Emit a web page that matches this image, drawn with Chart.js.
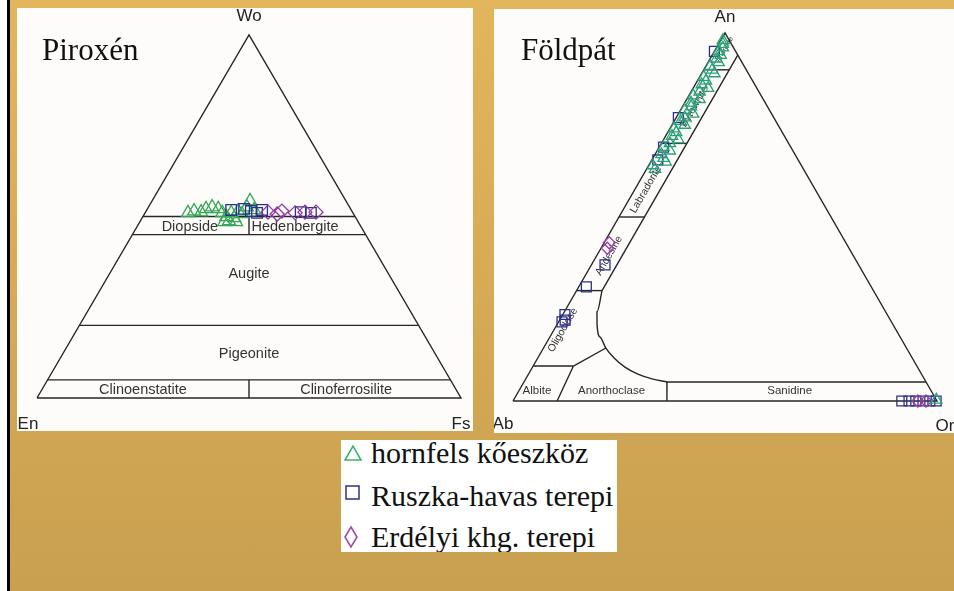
<!DOCTYPE html>
<html>
<head>
<meta charset="utf-8">
<script src="https://cdn.jsdelivr.net/npm/chart.js@4.4.0/dist/chart.umd.min.js"></script>
<style>
html,body{margin:0;padding:0;}
body{width:954px;height:591px;position:relative;overflow:hidden;background:linear-gradient(#e3b55c,#c9a050);}
#leftWhite{position:absolute;left:0;top:0;width:7px;height:591px;background:#fff;}
#leftBlack{position:absolute;left:7px;top:0;width:3px;height:591px;background:#000;}
.panel{position:absolute;background:#fdfcfa;}
#pyxBox{left:17px;top:8px;width:456px;height:423px;}
#fspBox{left:494px;top:9px;width:460px;height:424px;}
.panel canvas{position:absolute;left:0;top:0;}
.title{position:absolute;font-family:'Liberation Serif','Times New Roman',serif;font-size:31px;line-height:31px;color:#111;white-space:nowrap;}
#legend{position:absolute;left:341px;top:440px;width:276px;height:112px;background:#fff;overflow:hidden;}
#legend svg{position:absolute;left:0;top:0;}
.row{position:absolute;left:30px;font-family:'Liberation Serif','Times New Roman',serif;font-size:30px;line-height:30px;color:#111;white-space:nowrap;}
</style>
</head>
<body>
<div id="leftWhite"></div><div id="leftBlack"></div>
<div class="panel" id="pyxBox"><canvas id="pyx" width="456" height="423" style="width:456px;height:423px"></canvas></div>
<div class="panel" id="fspBox"><canvas id="fsp" width="460" height="424" style="width:460px;height:424px"></canvas></div>
<div class="title" id="t1" style="left:42px;top:34px"></div>
<div class="title" id="t2" style="left:521px;top:34px"></div>
<div id="legend">
  <svg width="276" height="112" viewBox="0 0 276 112">
    <polygon points="4,20 20,20 12,6" fill="none" stroke="#3db36b" stroke-width="1.6"/>
    <rect x="5" y="46" width="13" height="13" fill="none" stroke="#3c3c94" stroke-width="1.6"/>
    <polygon points="10,87 16,97 10,107 4,97" fill="none" stroke="#a24aa6" stroke-width="1.6"/>
  </svg>
  <div class="row" id="l0" style="top:-2px"></div>
  <div class="row" id="l1" style="top:41px"></div>
  <div class="row" id="l2" style="top:82px"></div>
</div>
<script>
// ---------- DATA ----------
const seriesNames = ['hornfels kőeszköz', 'Ruszka-havas terepi', 'Erdélyi khg. terepi'];
const panelTitles = ['Piroxén', 'Földpát'];
const pyxCorners = ['Wo', 'En', 'Fs'];
const fspCorners = ['An', 'Ab', 'Or'];
const pyxFields = ['Diopside', 'Hedenbergite', 'Augite', 'Pigeonite', 'Clinoenstatite', 'Clinoferrosilite'];
const fspStripFields = ['Oligoclase', 'Andesine', 'Labradorite', 'Bytownite', 'Anorthite'];
const fspBaseFields = ['Albite', 'Anorthoclase', 'Sanidine'];

// Pyroxene compositions (mol% Wo, Fs)
const pyxHornfelsWo = [51.0, 51.5, 51.2, 52.1, 52.6, 52.1, 51.0, 49.9, 48.8, 51.0, 49.6, 51.5, 50.7, 52.6, 54.3, 51.8, 48.5, 48.5];
const pyxHornfelsFs = [10.1, 11.3, 13.1, 13.8, 15.0, 16.7, 18.2, 19.7, 20.9, 20.3, 21.7, 21.7, 23.0, 23.2, 23.1, 25.3, 19.9, 22.7];
const pyxRuszkaWo = [51.8, 52.1, 51.5, 51.0, 51.8, 51.2, 51.0];
const pyxRuszkaFs = [19.9, 22.8, 24.7, 26.4, 27.2, 36.6, 39.1];
const pyxErdelyiWo = [51.2, 50.7, 51.5, 51.0, 51.2, 51.2];
const pyxErdelyiFs = [28.9, 31.3, 32.0, 35.4, 37.6, 40.2];

// Feldspar compositions (mol% An, Or)
const fspHornfelsAn = [63, 64, 65, 66, 67, 68, 69, 70, 71, 72, 73, 74, 75, 76, 77, 78, 79, 80, 81, 82, 83, 84, 85, 86, 87, 88, 89, 90, 91, 92, 93, 94, 95, 96, 97, 98, 0.3];
const fspHornfelsOr = [2, 1, 3.5, 2.5, 1.5, 3, 1, 2, 3.5, 1.5, 2, 1, 3, 1.5, 2, 3.5, 1, 2, 1.5, 3, 1, 2, 3.5, 1.5, 2, 1, 3, 2, 1, 2.5, 1.5, 2, 1, 1.5, 1, 0.5, 99.7];
const fspRuszkaAn = [95, 77, 69, 65.5, 37, 31, 23.5, 21.5, 22, 0, 0, 0, 0, 0, 0];
const fspRuszkaOr = [0, 0.5, 1, 1.4, 3.2, 1.8, 0.5, 0.8, 1.3, 91.7, 93.4, 95, 96.7, 98.3, 99.8];
const fspErdelyiAn = [43, 41.5, 0, 0];
const fspErdelyiOr = [1.2, 1.5, 95.5, 97.4];

// Field boundaries (pyroxene: [Wo, Fs])
const pyxBoundaries = [
  [[0, 0], [0, 100], [100, 0], [0, 0]],
  [[50, 0], [50, 50]],
  [[45, 0], [45, 55]],
  [[20, 0], [20, 80]],
  [[5, 0], [5, 95]],
  [[45, 27.5], [50, 25]],
  [[0, 50], [5, 47.5]]
];
// Field boundaries (feldspar: [An, Or])
const fspBoundaries = [
  [[0, 0], [0, 100], [100, 0], [0, 0]],
  [[30, 6], [94, 6]],
  [[30, 0], [30, 6]], [[50, 0], [50, 6]], [[70, 0], [70, 6]], [[90, 0], [90, 6]],
  [[9.5, 0], [9.5, 9.5]],
  [[9.5, 9.5], [0, 10.4]],
  [[9.5, 9.5], [14.4, 14.7]],
  [[5.16, 33.74], [5.16, 94.84]],
  [[5.16, 33.74], [0, 36.3]]
];
const fspSolvus = [[30, 6], [24.2, 7.7], [20.65, 9.5], [17.4, 11.8], [14.4, 14.7], [11.7, 18.0], [9.2, 21.8], [7.3, 25.8], [6.0, 29.8], [5.16, 33.74]];

// ---------- HELPERS ----------
const pyxXY = (wo, fs) => ({ x: fs / 100 + wo / 200, y: wo / 100 });
const fspXY = (an, or) => ({ x: or / 100 + an / 200, y: an / 100 });

document.getElementById('t1').textContent = panelTitles[0];
document.getElementById('t2').textContent = panelTitles[1];
seriesNames.forEach((n, i) => document.getElementById('l' + i).textContent = n);

const LINE = '#262626';
function lineSets(segs, conv, extra) {
  return segs.map(s => Object.assign({
    type: 'scatter', showLine: true, data: s.map(p => conv(p[0], p[1])),
    borderColor: LINE, borderWidth: 1.4, pointRadius: 0, fill: false, order: 10
  }, extra || {}));
}
function pointSet(label, a, b, conv, style, color, r, order) {
  return {
    type: 'scatter', label, data: a.map((v, i) => conv(v, b[i])),
    pointStyle: style, pointRadius: r, pointBorderColor: color, pointBackgroundColor: 'rgba(0,0,0,0)',
    borderColor: color, backgroundColor: 'rgba(0,0,0,0)', pointBorderWidth: 1.3, showLine: false, order
  };
}

const ternText = {
  id: 'ternText',
  beforeDatasetsDraw(chart, args, opts) {
    const { ctx } = chart;
    const sx = chart.scales.x, sy = chart.scales.y;
    (opts.items || []).forEach(it => {
      const px = sx.getPixelForValue(it.x) + (it.dx || 0);
      const py = sy.getPixelForValue(it.y) + (it.dy || 0);
      ctx.save();
      ctx.translate(px, py);
      if (it.rot) ctx.rotate(it.rot * Math.PI / 180);
      ctx.font = it.font;
      ctx.fillStyle = it.color || '#333';
      ctx.textAlign = 'center';
      ctx.textBaseline = 'middle';
      ctx.fillText(it.text, 0, 0);
      ctx.restore();
    });
  }
};

const baseOpts = (xmin, xmax, ymin, ymax, items) => ({
  responsive: false, maintainAspectRatio: false, animation: false,
  layout: { padding: 0, autoPadding: false },
  scales: {
    x: { type: 'linear', min: xmin, max: xmax, display: false },
    y: { type: 'linear', min: ymin, max: ymax, display: false }
  },
  plugins: { legend: { display: false }, tooltip: { enabled: false }, ternText: { items } },
  events: []
});

// ---------- PYROXENE ----------
const fieldFont = '14.5px "Liberation Sans", Arial, sans-serif';
const cornerFont = '17px "Liberation Sans", Arial, sans-serif';
const pyxItems = [
  Object.assign({ text: pyxFields[0], font: fieldFont }, pyxXY(47.1, 12.5)),
  Object.assign({ text: pyxFields[1], font: fieldFont }, pyxXY(47.1, 37.3)),
  Object.assign({ text: pyxFields[2], font: fieldFont }, pyxXY(34.2, 32.9)),
  Object.assign({ text: pyxFields[3], font: fieldFont }, pyxXY(12.1, 43.95)),
  Object.assign({ text: pyxFields[4], font: fieldFont }, pyxXY(2.2, 23.9)),
  Object.assign({ text: pyxFields[5], font: fieldFont }, pyxXY(2.2, 71.8)),
  Object.assign({ text: pyxCorners[0], font: cornerFont, color: '#222', dy: -19 }, pyxXY(100, 0)),
  Object.assign({ text: pyxCorners[1], font: cornerFont, color: '#222', dx: -9, dy: 26 }, pyxXY(0, 0)),
  Object.assign({ text: pyxCorners[2], font: cornerFont, color: '#222', dx: 0, dy: 26 }, pyxXY(0, 100))
];
new Chart(document.getElementById('pyx'), {
  type: 'scatter',
  data: {
    datasets: [
      pointSet(seriesNames[2], pyxErdelyiWo, pyxErdelyiFs, pyxXY, 'rectRot', '#8e3a9e', 7, 0),
      pointSet(seriesNames[1], pyxRuszkaWo, pyxRuszkaFs, pyxXY, 'rect', '#2d2f8c', 7.5, 1),
      pointSet(seriesNames[0], pyxHornfelsWo, pyxHornfelsFs, pyxXY, 'triangle', '#37a955', 7.5, 2),
      ...lineSets(pyxBoundaries, pyxXY)
    ]
  },
  options: baseOpts(-0.04717, 1.0283, -0.0909, 1.07438, pyxItems),
  plugins: [ternText]
});

// ---------- FELDSPAR ----------
const stripFont = '10.5px "Liberation Sans", Arial, sans-serif';
const baseFont = '11.5px "Liberation Sans", Arial, sans-serif';
const fspItems = [
  Object.assign({ text: fspStripFields[0], font: stripFont, rot: -60 }, fspXY(19.3, 2.1)),
  Object.assign({ text: fspStripFields[1], font: stripFont, rot: -60 }, fspXY(39.5, 2.9)),
  Object.assign({ text: fspStripFields[2], font: stripFont, rot: -60 }, fspXY(57.5, 2.6)),
  Object.assign({ text: fspStripFields[3], font: stripFont, rot: -60 }, fspXY(80, 2.8)),
  Object.assign({ text: fspStripFields[4], font: '7px "Liberation Sans", Arial, sans-serif', rot: -60 }, fspXY(95.5, 2.2)),
  Object.assign({ text: fspBaseFields[0], font: baseFont }, fspXY(2.7, 4.3)),
  Object.assign({ text: fspBaseFields[1], font: baseFont }, fspXY(2.7, 21.9)),
  Object.assign({ text: fspBaseFields[2], font: baseFont }, fspXY(2.7, 63.9)),
  Object.assign({ text: fspCorners[0], font: cornerFont, color: '#222', dy: -16 }, fspXY(100, 0)),
  Object.assign({ text: fspCorners[1], font: cornerFont, color: '#222', dx: -10, dy: 23 }, fspXY(0, 0)),
  Object.assign({ text: fspCorners[2], font: cornerFont, color: '#222', dx: 8, dy: 25 }, fspXY(0, 100))
];
new Chart(document.getElementById('fsp'), {
  type: 'scatter',
  data: {
    datasets: [
      pointSet(seriesNames[0], fspHornfelsAn, fspHornfelsOr, fspXY, 'triangle', '#2a9f78', 6.5, 0),
      pointSet(seriesNames[2], fspErdelyiAn, fspErdelyiOr, fspXY, 'rectRot', '#9a3fa3', 6, 1),
      pointSet(seriesNames[1], fspRuszkaAn, fspRuszkaOr, fspXY, 'rect', '#2d2f8c', 7, 2),
      ...lineSets(fspBoundaries, fspXY),
      ...lineSets([fspSolvus], fspXY, { tension: 0.4, cubicInterpolationMode: 'monotone' })
    ]
  },
  options: baseOpts(-0.044811, 1.040094, -0.086957, 1.065217, fspItems),
  plugins: [ternText]
});
</script>
</body>
</html>
